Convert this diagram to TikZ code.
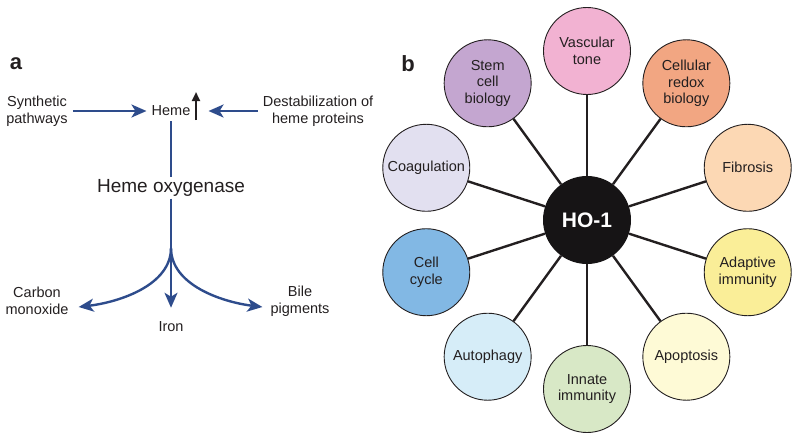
\documentclass[tikz,border=0pt]{standalone}
\usepackage{fontspec}
\setmainfont{Liberation Sans}
\usepackage{xcolor}
\usepackage{tikz}
\usetikzlibrary{arrows.meta}
\usetikzlibrary{shapes}
\definecolor{ink}{RGB}{35,31,32}
\definecolor{hemeblue}{RGB}{46,76,140}
\definecolor{hubblack}{RGB}{22,20,21}
\definecolor{cVasc}{RGB}{242,178,210}
\definecolor{cStem}{RGB}{196,166,208}
\definecolor{cCoag}{RGB}{226,224,240}
\definecolor{cCyc}{RGB}{130,184,228}
\definecolor{cAuto}{RGB}{214,237,248}
\definecolor{cInn}{RGB}{216,232,198}
\definecolor{cApo}{RGB}{254,250,214}
\definecolor{cAdap}{RGB}{250,238,152}
\definecolor{cFib}{RGB}{252,216,180}
\definecolor{cRedox}{RGB}{242,166,130}
\tikzstyle{panel}=[text=ink,inner sep=0,font=\fontsize{22}{24}\selectfont\bfseries]
\tikzstyle{lbl}=[align=center,inner sep=5pt,text=ink,font=\fontsize{14.5}{16.8}\selectfont]
\tikzstyle{flow}=[draw=hemeblue,line width=2.4pt,-{Stealth[length=15pt,width=13pt,inset=4pt]}]
\tikzstyle{hemeline}=[draw=hemeblue,line width=2.4pt]
\tikzstyle{rise}=[draw=ink,line width=2.2pt,-{Triangle[length=9pt,width=8pt]}]
\tikzstyle{topic}=[circle,draw=ink,line width=0.9pt,minimum size=87pt,inner sep=0pt,align=center,text=ink,font=\fontsize{14.5}{16.8}\selectfont]
\tikzstyle{hub}=[circle,fill=hubblack,minimum size=88pt,inner sep=0pt,text=white,font=\fontsize{21}{23}\selectfont\bfseries]
\tikzstyle{spoke}=[draw=ink,line width=2.4pt]

\begin{document}
\begin{tikzpicture}[x=1pt,y=-1pt]
\useasboundingbox (0,0) rectangle (800,439);

% % % panel a
	\node[panel] (pa) at (16,64) {a};
	\node[lbl] (syn) at (37,111) {Synthetic\\pathways};
	\node[lbl] (heme) at (171,111) {Heme};
	\node[lbl] (dest) at (318,111) {Destabilization of\\heme proteins};
	\node[lbl,font=\fontsize{19}{22}\selectfont,inner sep=2pt] (ho) at (171,188) {Heme oxygenase};
	\coordinate (br) at (171,248);
	\node[lbl] (co) at (37,301) {Carbon\\monoxide};
	\node[lbl] (iron) at (171,327) {Iron};
	\node[lbl] (bile) at (300,301) {Bile\\pigments};
	\coordinate (upbot) at (196,120);
	\coordinate (uptop) at (196,92);

	\path[flow] (syn) -- (heme);
	\path[flow] (dest) -- ([xshift=13pt]heme.east);
	\path[rise] (upbot) -- (uptop);
	\path[hemeline] (heme) -- (ho);
	\path[flow,shorten >=9pt] (ho) -- (iron);
	\path[flow] (br) .. controls (171,285) and (120,302) .. ([shift={(5pt,-6pt)}]co.east);
	\path[flow] (br) .. controls (171,285) and (222,302) .. ([shift={(-3pt,-6pt)}]bile.west);

% % % panel b
	\node[panel] (pb) at (408,64) {b};
	\node[hub] (ho1) at (587,220) {HO-1};
\begin{scope}[shift={(587,220)}]
	\foreach \nm/\ang/\col/\txt in {vasc/90/cVasc/{Vascular\\tone},
		stem/126/cStem/{Stem\\cell\\biology}, coag/162/cCoag/{Coagulation},
		cyc/198/cCyc/{Cell\\cycle}, auto/234/cAuto/{Autophagy},
		inn/270/cInn/{Innate\\immunity}, apo/306/cApo/{Apoptosis},
		adap/342/cAdap/{Adaptive\\immunity}, fib/18/cFib/{Fibrosis},
		redox/54/cRedox/{Cellular\\redox\\biology}}
	{
		\node[topic,fill=\col] (\nm) at (-\ang:169) {\txt};
		\path[spoke] (ho1) -- (\nm);
	}
\end{scope}
\end{tikzpicture}
\end{document}
